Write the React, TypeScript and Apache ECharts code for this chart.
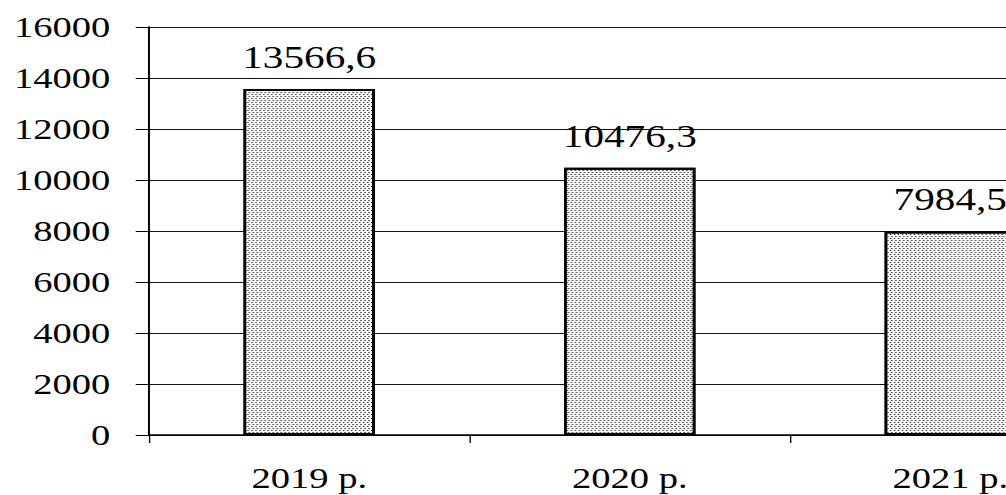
import React, { useEffect, useRef } from "react";
import * as echarts from "echarts";

// Data
const categories: string[] = ["2019 р.", "2020 р.", "2021 р."];
const values: number[] = [13566.6, 10476.3, 7984.5];
const yMin = 0;
const yMax = 16000;
const yStep = 2000;

// The drawing is rendered narrower and widened horizontally, giving the wide serif lettering.
const STRETCH = 1.33;
const FONT = "Liberation Serif";

const fmt = (v: number) => v.toFixed(1).replace(".", ",");

export default function App() {
  const ref = useRef<HTMLDivElement>(null);

  useEffect(() => {
    if (!ref.current) return;
    const chart = echarts.init(ref.current, undefined, { renderer: "svg" });
    chart.setOption({
      animation: false,
      backgroundColor: "#fff",
      grid: { left: 112, right: 15, top: 27, bottom: 60, containLabel: false },
      xAxis: {
        type: "category",
        data: categories,
        boundaryGap: true,
        axisLine: { show: true, lineStyle: { color: "#000", width: 1.5 } },
        axisTick: { show: true, length: 8, inside: false, lineStyle: { color: "#000", width: 1 } },
        axisLabel: { color: "#000", fontFamily: FONT, fontSize: 29, margin: 29 },
        splitLine: { show: false },
      },
      yAxis: {
        type: "value",
        min: yMin,
        max: yMax,
        interval: yStep,
        axisLine: { show: true, lineStyle: { color: "#000", width: 1.5 } },
        axisTick: { show: true, length: 10, inside: false, lineStyle: { color: "#000", width: 1 } },
        axisLabel: {
          color: "#000",
          fontFamily: FONT,
          fontSize: 29,
          margin: 29,
          formatter: (v: number) => String(v),
        },
        splitLine: { show: true, lineStyle: { color: "#111", width: 1 } },
      },
      series: [
        {
          type: "bar",
          data: values,
          barWidth: "41%",
          itemStyle: {
            color: "#fff",
            borderColor: "#000",
            borderWidth: 2,
            decal: {
              symbol: "rect",
              symbolSize: 1,
              color: "#111",
              backgroundColor: "#fff",
              dashArrayX: [[1, 2], [0, 1, 1, 1]],
              dashArrayY: [1, 1],
              rotation: 0,
            },
          },
          label: {
            show: true,
            position: "top",
            distance: 16,
            color: "#000",
            fontFamily: FONT,
            fontSize: 31,
            formatter: (p: any) => fmt(p.value),
          },
        },
      ],
    });
    return () => chart.dispose();
  }, []);

  return (
    <div
      style={{
        position: "fixed",
        left: 0,
        top: 0,
        width: 1006,
        height: 495,
        overflow: "hidden",
        background: "#fff",
      }}
    >
      <div
        ref={ref}
        style={{
          width: 850,
          height: 495,
          transform: `scaleX(${STRETCH})`,
          transformOrigin: "0 0",
        }}
      />
    </div>
  );
}
